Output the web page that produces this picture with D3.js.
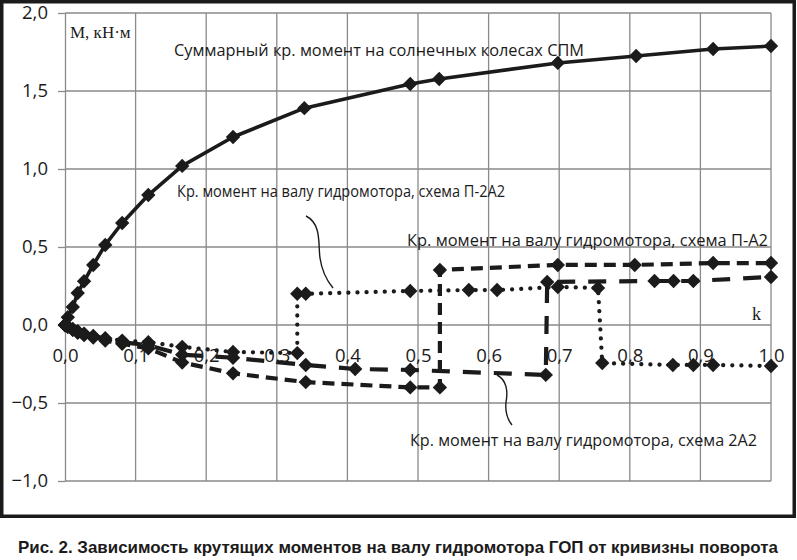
<!DOCTYPE html>
<html>
<head>
<meta charset="utf-8">
<script src="https://cdn.jsdelivr.net/npm/d3@7"></script>
<style>
  body { margin: 0; background: #fff; }
  svg { display: block; }
</style>
</head>
<body>
<svg width="797" height="560"></svg>
<script>
// Axis ticks
const xTicks = [0, 0.1, 0.2, 0.3, 0.4, 0.5, 0.6, 0.7, 0.8, 0.9, 1.0];
const yTicks = [-1.0, -0.5, 0, 0.5, 1.0, 1.5, 2.0];

// Суммарный момент (solid)
const kSum = [0, 0.004, 0.011, 0.018, 0.027, 0.04, 0.057, 0.081, 0.118, 0.166, 0.238, 0.339, 0.489, 0.53, 0.698, 0.809, 0.918, 1.0];
const mSum = [0, 0.05, 0.115, 0.205, 0.28, 0.385, 0.513, 0.654, 0.833, 1.02, 1.205, 1.39, 1.545, 1.577, 1.68, 1.724, 1.769, 1.788];

// схема П-2А2 (dotted)
const kP2A2 = [0, 0.004, 0.011, 0.018, 0.027, 0.04, 0.057, 0.081, 0.118, 0.166, 0.238, 0.329, 0.329, 0.341, 0.489, 0.572, 0.612, 0.698, 0.755, 0.761, 0.861, 0.89, 0.918, 1.0];
const mP2A2 = [0, -0.01, -0.025, -0.04, -0.055, -0.07, -0.085, -0.10, -0.11, -0.14, -0.173, -0.18, 0.2, 0.2, 0.218, 0.224, 0.224, 0.244, 0.237, -0.244, -0.256, -0.256, -0.256, -0.263];

// схема П-А2 (medium dash)
const kPA2 = [0, 0.004, 0.011, 0.018, 0.027, 0.04, 0.057, 0.081, 0.118, 0.166, 0.238, 0.341, 0.489, 0.531, 0.531, 0.698, 0.807, 0.918, 1.0];
const mPA2 = [0, -0.012, -0.03, -0.05, -0.065, -0.08, -0.10, -0.12, -0.15, -0.24, -0.31, -0.366, -0.40, -0.40, 0.353, 0.385, 0.385, 0.397, 0.397];

// схема 2А2 (long dash)
const k2A2 = [0, 0.004, 0.011, 0.018, 0.027, 0.04, 0.057, 0.081, 0.118, 0.166, 0.238, 0.341, 0.411, 0.489, 0.681, 0.683, 0.835, 0.862, 0.89, 1.0];
const m2A2 = [0, -0.01, -0.03, -0.045, -0.06, -0.075, -0.09, -0.11, -0.13, -0.19, -0.21, -0.256, -0.282, -0.288, -0.32, 0.276, 0.282, 0.282, 0.282, 0.308];

const svg = d3.select("svg");
const ink = "#1b1b1b";
const tickFont = "'Open Sans', sans-serif";

// outer frame
svg.append("rect")
  .attr("x", 1.75).attr("y", 1.75)
  .attr("width", 792.5).attr("height", 514.5)
  .attr("fill", "none")
  .attr("stroke", ink)
  .attr("stroke-width", 3.5);

const x = d3.scaleLinear().domain([0, 1]).range([65, 771]);
const y = d3.scaleLinear().domain([-1, 2]).range([481, 13]);

// horizontal grid + y ticks
const yAxis = svg.append("g")
  .attr("transform", `translate(${x(0)},0)`)
  .call(d3.axisLeft(y).tickValues(yTicks).tickSizeInner(7).tickSizeOuter(0)
    .tickFormat(d => d3.format(".1f")(d).replace(".", ",")));
yAxis.select(".domain").attr("stroke", "#8a8a8a").attr("stroke-width", 1.3);
yAxis.selectAll(".tick line").attr("stroke", "#8a8a8a").attr("stroke-width", 1.3);
yAxis.selectAll(".tick text")
  .attr("x", -17)
  .style("font-family", tickFont).style("font-size", "18.5px").attr("fill", ink);

svg.append("g")
  .selectAll("line")
  .data(yTicks)
  .join("line")
  .attr("x1", x(0)).attr("x2", x(1))
  .attr("y1", d => y(d)).attr("y2", d => y(d))
  .attr("stroke", "#8a8a8a").attr("stroke-width", 1.3);

// vertical grid
svg.append("g")
  .selectAll("line")
  .data(xTicks.slice(1))
  .join("line")
  .attr("x1", d => x(d)).attr("x2", d => x(d))
  .attr("y1", y(2)).attr("y2", y(-1))
  .attr("stroke", "#8a8a8a").attr("stroke-width", 1.3);

// x tick labels below the zero line
const xAxis = svg.append("g")
  .attr("transform", `translate(0,${y(0)})`)
  .call(d3.axisBottom(x).tickValues(xTicks).tickSize(0).tickPadding(24)
    .tickFormat(d => d3.format(".1f")(d).replace(".", ",")));
xAxis.select(".domain").remove();
xAxis.selectAll(".tick text")
  .style("font-family", tickFont).style("font-size", "18.5px").attr("fill", ink);

// axis titles
svg.append("text")
  .attr("x", 70).attr("y", 38)
  .style("font-family", "'Liberation Serif', serif").style("font-size", "17px")
  .attr("fill", ink)
  .text("M, кН·м");

svg.append("text")
  .attr("x", 752).attr("y", 320)
  .style("font-family", "'Liberation Serif', serif").style("font-size", "18px")
  .attr("fill", ink)
  .text("k");

// series
const series = [
  { k: kSum, m: mSum, dash: null, width: 3.6 },
  { k: kP2A2, m: mP2A2, dash: "0.1 9", width: 4.2, cap: "round" },
  { k: kPA2, m: mPA2, dash: "12 7", width: 4.2 },
  { k: k2A2, m: m2A2, dash: "18 13", width: 4.2 }
];

const line = d3.line().x(d => x(d[0])).y(d => y(d[1]));
const diamond = "M0,-7.2L7.2,0L0,7.2L-7.2,0Z";

series.forEach(s => {
  const pts = s.k.map((k, i) => [k, s.m[i]]);
  svg.append("path")
    .datum(pts)
    .attr("fill", "none")
    .attr("stroke", ink)
    .attr("stroke-width", s.width)
    .attr("stroke-dasharray", s.dash)
    .attr("stroke-linecap", s.cap || "butt")
    .attr("stroke-linejoin", "round")
    .attr("d", line);
  svg.append("g")
    .selectAll("path")
    .data(pts)
    .join("path")
    .attr("transform", d => `translate(${x(d[0])},${y(d[1])})`)
    .attr("d", diamond)
    .attr("fill", ink);
});

// annotations
const labelFont = "'Open Sans', sans-serif";
const notes = [
  { text: "Суммарный кр. момент на солнечных колесах СПМ", x: 174, y: 56, len: 410 },
  { text: "Кр. момент на валу гидромотора, схема П-2А2", x: 177, y: 197, len: 328 },
  { text: "Кр. момент на валу гидромотора, схема П-А2", x: 407, y: 246, len: 361 },
  { text: "Кр. момент на валу гидромотора, схема 2А2", x: 410, y: 446, len: 347 }
];
svg.append("g")
  .selectAll("text")
  .data(notes)
  .join("text")
  .attr("x", d => d.x).attr("y", d => d.y)
  .attr("textLength", d => d.len)
  .attr("lengthAdjust", "spacingAndGlyphs")
  .style("font-family", labelFont).style("font-size", "17px")
  .attr("fill", ink)
  .text(d => d.text);

// leader curves
svg.append("path")
  .attr("d", "M306,216 C322,224 318,245 320,258 C322,272 328,282 333,288")
  .attr("fill", "none").attr("stroke", ink).attr("stroke-width", 1.4);
svg.append("path")
  .attr("d", "M497,375 C507,380 508,392 506,402 C505,412 508,420 512,425")
  .attr("fill", "none").attr("stroke", ink).attr("stroke-width", 1.4);

// caption
svg.append("text")
  .attr("x", 398).attr("y", 553)
  .attr("text-anchor", "middle")
  .attr("textLength", 760)
  .attr("lengthAdjust", "spacingAndGlyphs")
  .style("font-family", "'Liberation Sans Narrow', 'Liberation Sans', sans-serif")
  .style("font-weight", "bold")
  .style("font-size", "17px")
  .attr("fill", ink)
  .text("Рис. 2. Зависимость крутящих моментов на валу гидромотора ГОП от кривизны поворота");
</script>
</body>
</html>
